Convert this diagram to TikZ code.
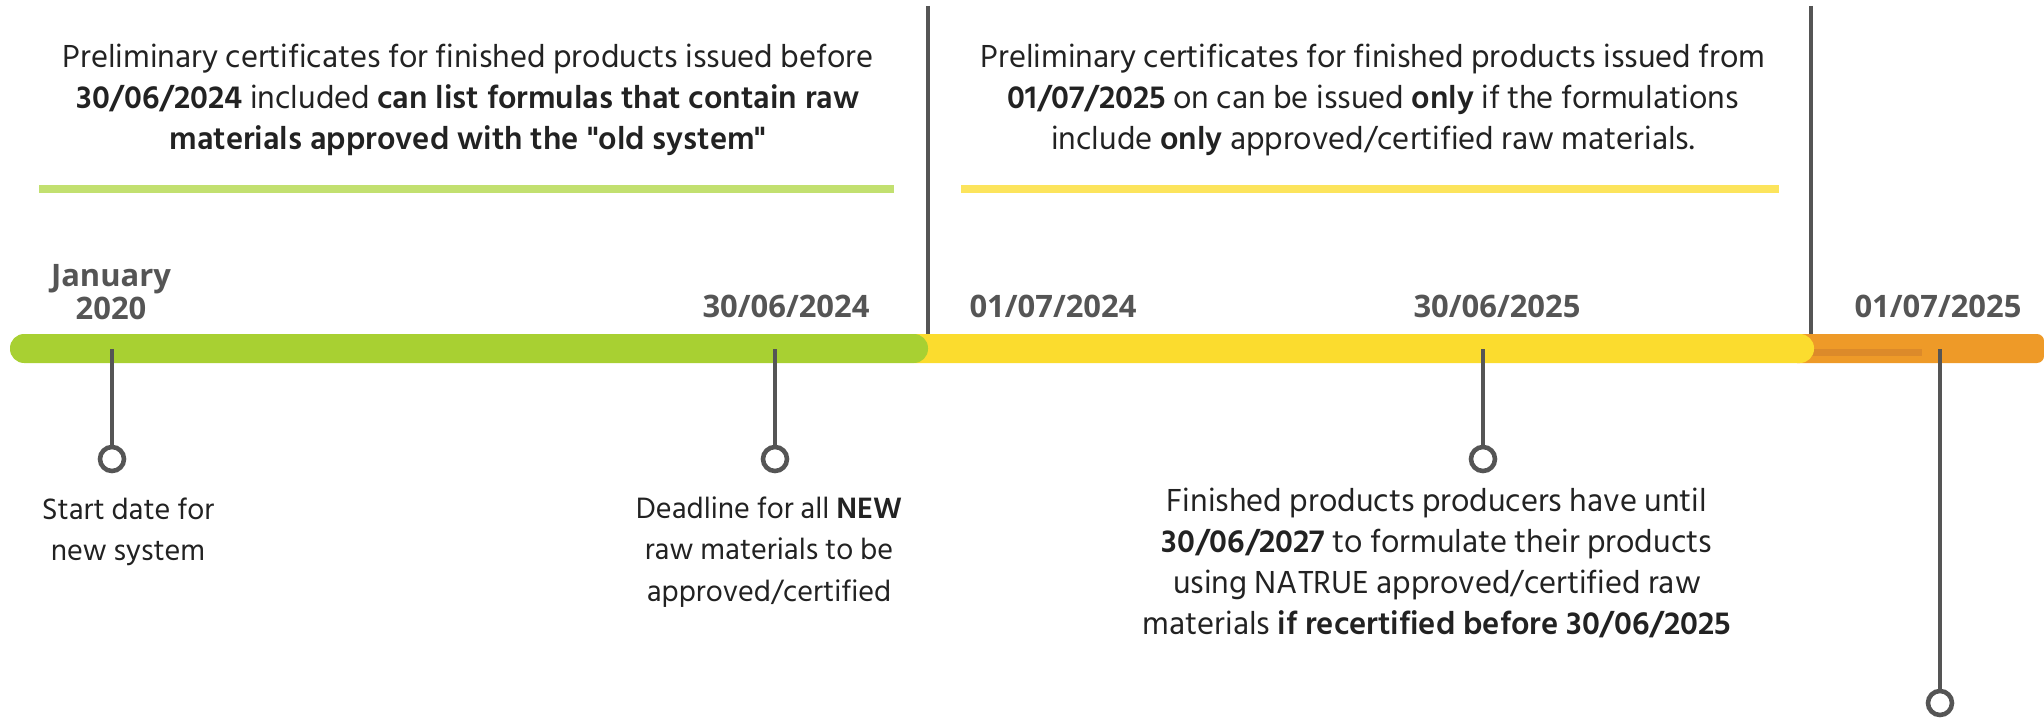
\documentclass[tikz,border=0pt]{standalone}
\usepackage{fontspec}
\setmainfont{Hind Siliguri}
\newfontfamily\datefont{Open Sans}
\usepackage{tikz}

\definecolor{barGreen}{HTML}{A8D032}
\definecolor{barYellow}{HTML}{FBDC2E}
\definecolor{barOrange}{HTML}{EE9A28}
\definecolor{stripOrange}{HTML}{DC8A2A}
\definecolor{lineGreen}{HTML}{C2E070}
\definecolor{lineYellow}{HTML}{FCE45C}
\definecolor{darkGray}{HTML}{555555}
\definecolor{textDark}{HTML}{222222}

\tikzset{
  note/.style = {align=center, text=textDark, font=\fontsize{8.6}{11.7}\selectfont},
  bignote/.style = {note, font=\fontsize{9.3}{11.7}\selectfont},
  datelabel/.style = {align=center, text=darkGray, font=\datefont\bfseries\fontsize{8.8}{9.6}\selectfont},
  pin/.style = {circle, draw=darkGray, line width=1.3pt, fill=white, minimum size=0.24cm, inner sep=0pt},
  stem/.style = {darkGray, line width=1.3pt},
}

\begin{document}
\begin{tikzpicture}[x = 0.01cm, y = -0.01cm]

  \useasboundingbox (0, 0) rectangle (2044, 718);

  % the bar
  \fill[barOrange, rounded corners = 2pt] (1790, 334) rectangle (2044, 363);
  \fill[stripOrange] (1790, 349) rectangle (1922, 356);
  \fill[barYellow, rounded corners = 4pt] (900, 334) rectangle (1814, 363);
  \fill[barGreen, rounded corners = 4pt] ( 10, 334) rectangle ( 928, 363);

  % top notes
  \node[bignote] (oldNote) at ( 468, 100) {Preliminary certificates for finished products issued before\\
    \textbf{30/06/2024} included \textbf{can list formulas that contain raw}\\
    \textbf{materials approved with the \textquotedbl old system\textquotedbl}};
  \draw[lineGreen, line width = 0.07cm] ( 39, 189) -- ( 894, 189);

  \node[bignote] (newNote) at (1373, 100) {Preliminary certificates for finished products issued from\\
    \textbf{01/07/2025} on can be issued \textbf{only} if the formulations\\
    include \textbf{only} approved/certified raw materials.};
  \draw[lineYellow, line width = 0.07cm] (961, 189) -- (1779, 189);

  % dividers
  \coordinate (divA) at ( 928,   6);
  \coordinate (divAbar) at ( 928, 334);
  \coordinate (divB) at (1811,   6);
  \coordinate (divBbar) at (1811, 334);
  \draw[stem] (divA) -- (divAbar);
  \draw[stem] (divB) -- (divBbar);

  % dates
  \node[datelabel] (jan) at ( 111, 292) {January\\2020};
  \node[datelabel] (endOld) at ( 786, 306) {30/06/2024};
  \node[datelabel] (startNew) at (1053, 306) {01/07/2024};
  \node[datelabel] (endNew) at (1497, 306) {30/06/2025};
  \node[datelabel] (startOnly) at (1938, 306) {01/07/2025};

  % stems and pins
  \coordinate (barA) at ( 112, 349);
  \coordinate (barB) at ( 775, 349);
  \coordinate (barC) at (1483, 349);
  \coordinate (barD) at (1940, 349);

  \node[pin] (pinA) at ( 112, 459) {};
  \node[pin] (pinB) at ( 775, 459) {};
  \node[pin] (pinC) at (1483, 459) {};
  \node[pin] (pinD) at (1940, 703) {};

  \draw[stem] (barA) -- (pinA);
  \draw[stem] (barB) -- (pinB);
  \draw[stem] (barC) -- (pinC);
  \draw[stem] (barD) -- (pinD);

  % bottom notes
  \node[note] (startNote) at ( 128, 532) {Start date for\\new system};
  \node[note] (deadlineNote) at ( 769, 552) {Deadline for all \textbf{NEW}\\
    raw materials to be\\approved/certified};
  \node[bignote] (producerNote) at (1437, 563) {Finished products producers have until\\
    \textbf{30/06/2027} to formulate their products\\
    using NATRUE approved/certified raw\\
    materials \textbf{if recertified before 30/06/2025}};

\end{tikzpicture}
\end{document}
